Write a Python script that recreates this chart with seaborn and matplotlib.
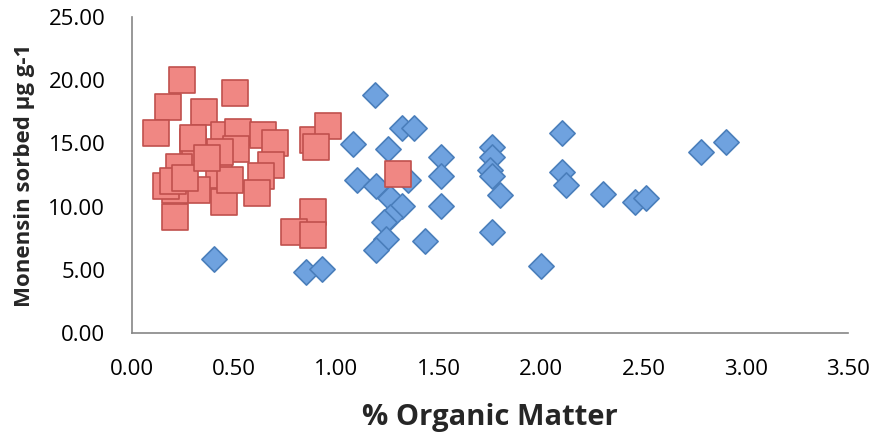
import pandas as pd
import matplotlib.pyplot as plt
import seaborn as sns

# serie azul (losangos)
om_azul = [1.19, 1.32, 1.38, 1.08, 1.25, 1.51, 1.51, 1.76, 1.76, 1.75, 1.76, 1.80,
           2.10, 2.10, 2.12, 1.10, 1.195, 1.35, 1.26, 1.32, 1.26, 1.23, 1.51, 1.24,
           1.195, 1.43, 1.76, 2.00, 0.85, 0.93, 0.40, 2.30, 2.46, 2.51, 2.78, 2.90]
mon_azul = [18.86, 16.24, 16.24, 14.93, 14.52, 13.92, 12.40, 14.72, 13.92, 12.91, 12.40, 10.89,
            15.84, 12.71, 11.70, 12.10, 11.60, 12.10, 10.69, 10.08, 9.17, 8.77, 10.08, 7.46,
            6.55, 7.26, 7.96, 5.34, 4.83, 5.03, 5.84, 10.99, 10.39, 10.69, 14.32, 15.13]

# serie vermelha (quadrados)
om_verm = [0.245, 0.175, 0.12, 0.505, 0.355, 0.30, 0.45, 0.52, 0.64, 0.70,
           0.51, 0.68, 0.63, 0.61, 0.425, 0.45, 0.32, 0.245, 0.21, 0.21,
           0.31, 0.30, 0.43, 0.885, 0.96, 0.90, 0.885, 0.795, 0.885, 0.23,
           0.17, 1.30, 0.20, 0.26, 0.48, 0.37]
mon_verm = [19.98, 17.86, 15.84, 18.97, 17.45, 15.13, 15.63, 15.94, 15.63, 15.03,
            14.52, 13.31, 12.40, 11.09, 12.50, 10.39, 11.29, 12.81, 11.29, 9.17,
            14.12, 15.43, 14.32, 15.23, 16.34, 14.72, 9.58, 8.01, 7.76, 13.11,
            11.60, 12.60, 12.00, 12.30, 12.10, 13.82]

azul = pd.DataFrame({'om': om_azul, 'mon': mon_azul})
verm = pd.DataFrame({'om': om_verm, 'mon': mon_verm})

sns.set_style('white')
plt.rcParams['font.family'] = ['Open Sans', 'DejaVu Sans']

fig = plt.figure(figsize=(8.76, 4.38), dpi=100)
ax = fig.add_axes([0.1503, 0.2397, 0.8183, 0.7215])

sns.scatterplot(data=azul, x='om', y='mon', marker='D', s=165,
                color='#6FA2DF', edgecolor='#4A7EBB', linewidth=1.2, ax=ax)
sns.scatterplot(data=verm, x='om', y='mon', marker='s', s=370,
                color='#F08783', edgecolor='#C0504D', linewidth=1.2, ax=ax)

ax.set_xlim(0, 3.5)
ax.set_ylim(0, 25)
ax.set_xticks([0, 0.5, 1, 1.5, 2, 2.5, 3, 3.5])
ax.set_yticks([0, 5, 10, 15, 20, 25])
ax.xaxis.set_major_formatter(plt.FormatStrFormatter('%.2f'))
ax.yaxis.set_major_formatter(plt.FormatStrFormatter('%.2f'))
ax.tick_params(axis='both', length=0, labelsize=16, colors='black')
ax.tick_params(axis='x', pad=19)
ax.tick_params(axis='y', pad=19)

for lado in ['top', 'right']:
    ax.spines[lado].set_visible(False)
for lado in ['left', 'bottom']:
    ax.spines[lado].set_color('#868686')
    ax.spines[lado].set_linewidth(1.2)

ax.set_xlabel('% Organic Matter', fontsize=21, fontweight='bold')
ax.xaxis.set_label_coords(0.5, -0.291)
ax.xaxis.label.set_va('baseline')
ax.set_ylabel('Monensin sorbed μg g-1', fontsize=16, fontweight='bold')
ax.yaxis.set_label_coords(-0.150, 0.5)
ax.yaxis.label.set_va('center')

fig.savefig('out.png', dpi=100)
